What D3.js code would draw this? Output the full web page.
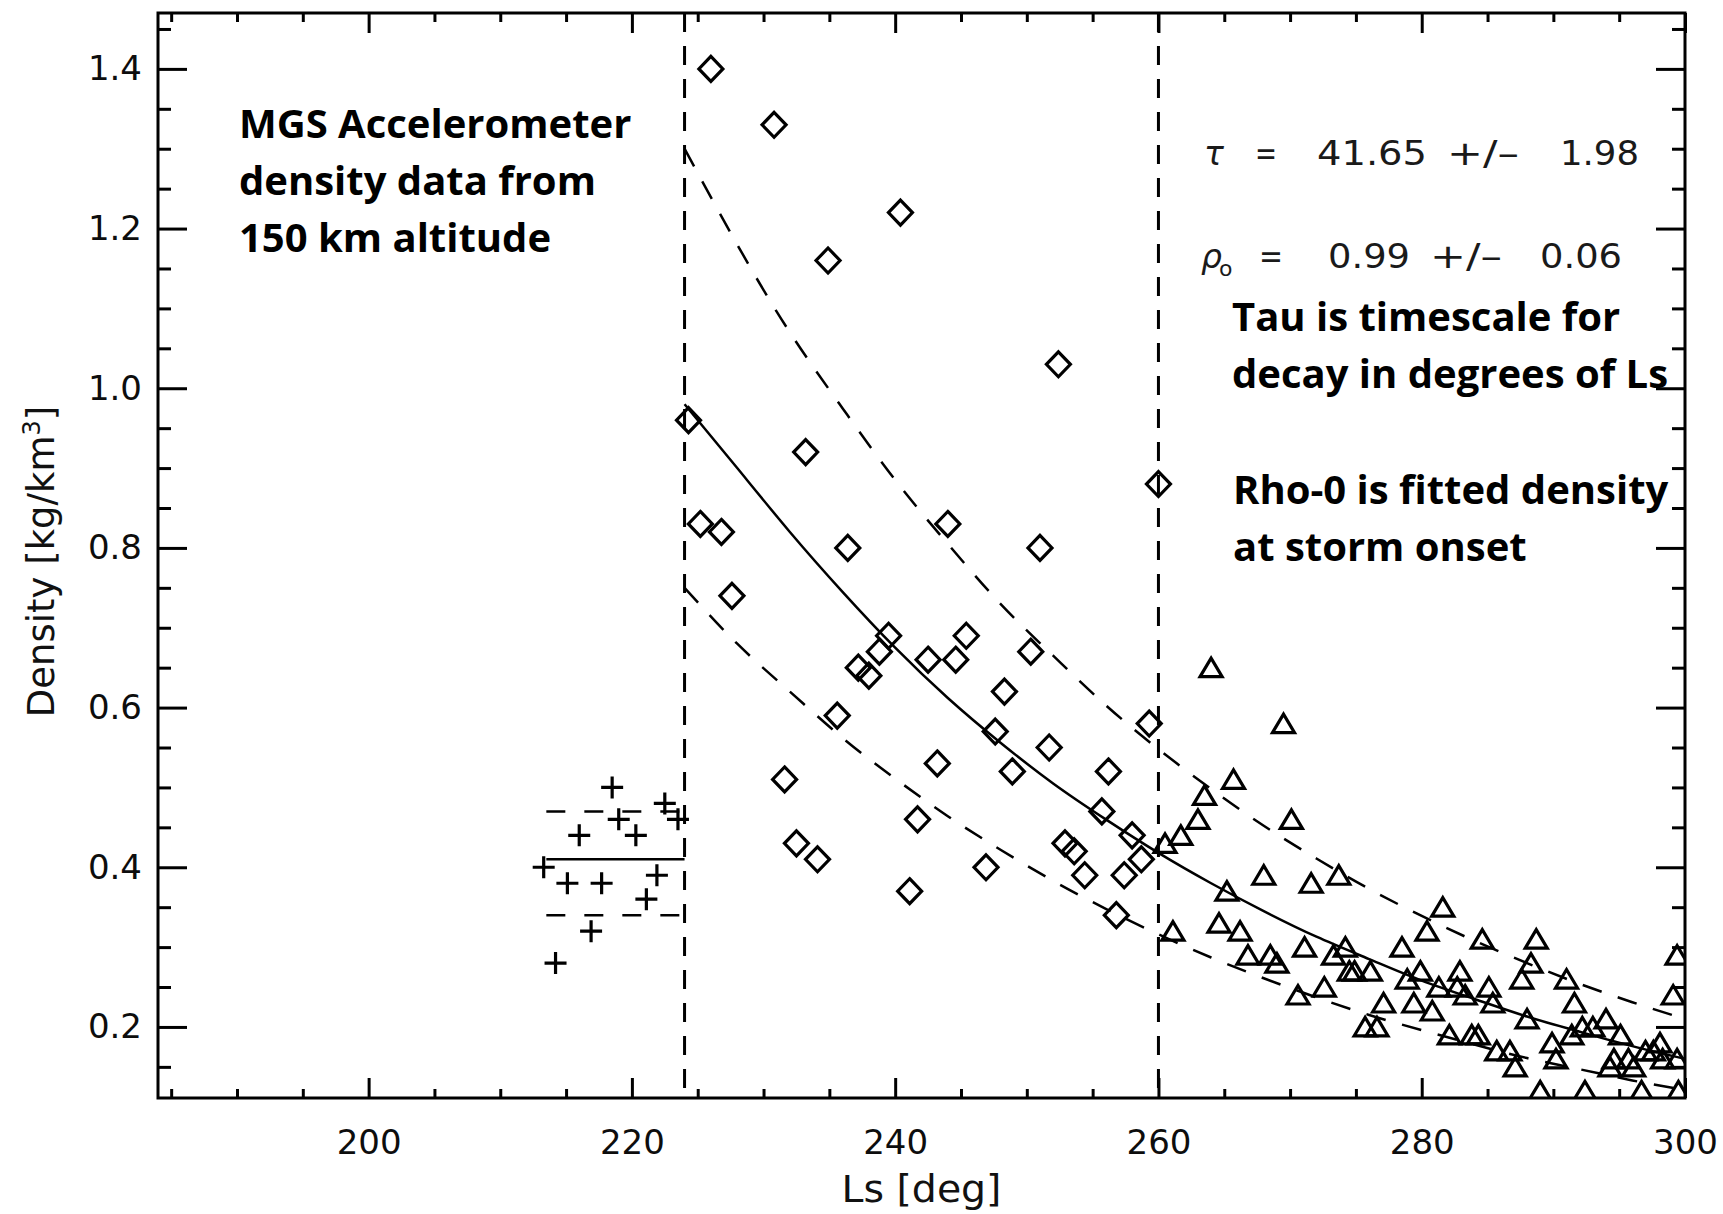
<!DOCTYPE html>
<html>
<head>
<meta charset="utf-8">
<script src="https://cdn.jsdelivr.net/npm/d3@7"></script>
<style>
  body { margin: 0; background: #fff; }
  svg { display: block; }
  .axis text { font-family: "DejaVu Sans", sans-serif; font-size: 34px; fill: #0d0d0d; }
  .axis line { stroke: #000; stroke-width: 3; }
  .axis .domain { display: none; }
  .title { font-family: "DejaVu Sans", sans-serif; font-size: 37px; fill: #111; }
  .fit { font-family: "DejaVu Sans", sans-serif; font-size: 33px; fill: #1a1a1a; }
  .note { font-family: "Open Sans", sans-serif; font-weight: bold; font-size: 40px; fill: #000; }
</style>
</head>
<body>
<script>
'use strict';

//pre-storm orbits (crosses)
var crossLs  = [213.3, 214.2, 215.1, 216.0, 216.9, 217.7, 218.5, 219.0, 220.3, 221.1, 221.9, 222.5, 223.5];
var crossRho = [0.40, 0.28, 0.38, 0.44, 0.32, 0.38, 0.50, 0.46, 0.44, 0.36, 0.39, 0.48, 0.46];

//storm orbits, Ls 224-260 (diamonds)
var diamondLs  = [224.3, 225.2, 226.0, 226.8, 227.6, 230.8, 231.6, 232.5, 233.2, 234.1, 234.9,
                  235.6, 236.4, 237.2, 238.0, 238.8, 239.5, 240.4, 241.1, 241.7, 242.5, 243.2,
                  244.0, 244.6, 245.4, 246.9, 247.6, 248.3, 248.9, 250.3, 251.0, 251.7, 252.4,
                  252.9, 253.6, 254.4, 255.7, 256.2, 256.8, 257.4, 258.0, 258.7, 259.3, 260.0];
var diamondRho = [0.96, 0.83, 1.40, 0.82, 0.74, 1.33, 0.51, 0.43, 0.92, 0.41, 1.16,
                  0.59, 0.80, 0.65, 0.64, 0.67, 0.69, 1.22, 0.37, 0.46, 0.66, 0.53,
                  0.83, 0.66, 0.69, 0.40, 0.57, 0.62, 0.52, 0.67, 0.80, 0.55, 1.03,
                  0.43, 0.42, 0.39, 0.47, 0.52, 0.34, 0.39, 0.44, 0.41, 0.58, 0.88];

//decay orbits, Ls 260-300 (triangles)
var triangleLs  = [260.5, 261.1, 261.7, 263.0, 263.5, 264.0, 264.6, 265.2, 265.7, 266.2, 266.8,
                   268.0, 268.5, 269.0, 269.5, 270.1, 270.6, 271.1, 271.6, 272.6, 273.3, 273.7,
                   274.2, 274.5, 274.9, 275.7, 276.1, 276.6, 277.1, 278.5, 278.9, 279.4, 279.9,
                   280.4, 280.8, 281.3, 281.6, 282.1, 282.7, 282.9, 283.3, 283.8, 284.3, 284.6,
                   285.1, 285.4, 285.7, 286.7, 287.1, 287.6, 288.0, 288.3, 288.7, 289.0, 289.9,
                   290.2, 291.0, 291.4, 291.6, 292.2, 292.4, 293.0, 294.0, 294.3, 294.6, 295.1,
                   295.7, 296.1, 296.7, 297.0, 297.6, 298.1, 298.3, 299.1, 299.4, 299.4, 299.5];
var triangleRho = [0.43, 0.32, 0.44, 0.46, 0.49, 0.65, 0.33, 0.37, 0.51, 0.32, 0.29,
                   0.39, 0.29, 0.28, 0.58, 0.46, 0.24, 0.30, 0.38, 0.25, 0.29, 0.39,
                   0.30, 0.27, 0.27, 0.20, 0.27, 0.20, 0.23, 0.30, 0.26, 0.23, 0.27,
                   0.32, 0.22, 0.25, 0.35, 0.19, 0.25, 0.27, 0.24, 0.19, 0.19, 0.31,
                   0.25, 0.23, 0.17, 0.17, 0.15, 0.26, 0.21, 0.28, 0.31, 0.12, 0.18,
                   0.16, 0.26, 0.19, 0.23, 0.20, 0.12, 0.20, 0.21, 0.15, 0.16, 0.19,
                   0.16, 0.15, 0.12, 0.17, 0.17, 0.18, 0.16, 0.24, 0.29, 0.16, 0.12];

//fitted decay and its envelope
var curveLs  = [224, 228, 232, 236, 240, 244, 248, 252, 256, 260, 264, 268, 272, 276, 280, 284, 288, 292, 296, 300];
var fitRho   = [0.98, 0.90, 0.82, 0.745, 0.675, 0.612, 0.556, 0.505, 0.46, 0.418, 0.38, 0.345, 0.313, 0.285, 0.258, 0.235, 0.213, 0.194, 0.176, 0.16];
var upperRho = [1.30, 1.18, 1.07, 0.975, 0.885, 0.805, 0.73, 0.665, 0.603, 0.548, 0.498, 0.452, 0.411, 0.373, 0.339, 0.308, 0.28, 0.254, 0.231, 0.21];
var lowerRho = [0.75, 0.68, 0.62, 0.562, 0.511, 0.464, 0.422, 0.383, 0.348, 0.316, 0.287, 0.261, 0.237, 0.215, 0.196, 0.178, 0.161, 0.147, 0.133, 0.121];

//pre-storm mean and spread
var preLs = [213.5, 224];
var preMean = 0.41, preHigh = 0.47, preLow = 0.34;

//storm onset / decay start
var stormLs = [224, 260];

var xMajor = [200, 220, 240, 260, 280, 300];
var xMinor = [185, 190, 195, 205, 210, 215, 225, 230, 235, 245, 250, 255, 265, 270, 275, 285, 290, 295];
var yMajor = [0.2, 0.4, 0.6, 0.8, 1.0, 1.2, 1.4];
var yMinor = [0.15, 0.25, 0.3, 0.35, 0.45, 0.5, 0.55, 0.65, 0.7, 0.75, 0.85, 0.9, 0.95, 1.05, 1.1, 1.15, 1.25, 1.3, 1.35, 1.45];

var tau = '41.65', tauErr = '1.98', rho0 = '0.99', rho0Err = '0.06';

//general setup
var W = 1723, H = 1214;
var pL = 158, pR = 1685, pT = 13, pB = 1098;

var svg = d3.select('body').append('svg').attr('width', W).attr('height', H);

var x = d3.scaleLinear().domain([184, 300]).range([pL, pR]);
var y = d3.scaleLinear().domain([0.111, 1.47]).range([pB, pT]);

svg.append('clipPath').attr('id', 'plot').append('rect')
  .attr('x', pL).attr('y', pT).attr('width', pR - pL).attr('height', pB - pT);

var plot = svg.append('g').attr('clip-path', 'url(#plot)');

//axes: majors with labels, minors without, all ticks inward
function axis(gen, scale, vals, len, fmt, tr, pad) {
  var a = gen(scale).tickValues(vals).tickSizeInner(-len).tickSizeOuter(0).tickPadding(pad || 0)
    .tickFormat(fmt ? d3.format(fmt) : '');
  svg.append('g').attr('class', 'axis').attr('transform', tr).call(a);
}
axis(d3.axisBottom, x, xMajor, 20, 'd', 'translate(0,' + pB + ')', 32);
axis(d3.axisBottom, x, xMinor, 9, null, 'translate(0,' + pB + ')');
axis(d3.axisTop, x, xMajor, 20, null, 'translate(0,' + pT + ')');
axis(d3.axisTop, x, xMinor, 9, null, 'translate(0,' + pT + ')');
axis(d3.axisLeft, y, yMajor, 29, '.1f', 'translate(' + pL + ',0)', 16);
axis(d3.axisLeft, y, yMinor, 13, null, 'translate(' + pL + ',0)');
axis(d3.axisRight, y, yMajor, 29, null, 'translate(' + pR + ',0)');
axis(d3.axisRight, y, yMinor, 13, null, 'translate(' + pR + ',0)');

svg.append('rect').attr('x', pL).attr('y', pT).attr('width', pR - pL).attr('height', pB - pT)
  .attr('fill', 'none').attr('stroke', '#000').attr('stroke-width', 3);

//axis titles
svg.append('text').attr('class', 'title').attr('x', (pL + pR) / 2).attr('y', 1202)
  .attr('text-anchor', 'middle').attr('textLength', 160).attr('lengthAdjust', 'spacingAndGlyphs')
  .text('Ls [deg]');
var yt = svg.append('text').attr('class', 'title').attr('text-anchor', 'middle')
  .attr('transform', 'translate(54,' + ((pT + pB) / 2 + 6) + ') rotate(-90)');
yt.append('tspan').text('Density  [kg/km');
yt.append('tspan').attr('font-size', 24).attr('dy', -14).text('3');
yt.append('tspan').attr('dy', 14).text(']');

//vertical dashed markers
stormLs.forEach(function (v) {
  plot.append('line').attr('x1', x(v)).attr('x2', x(v)).attr('y1', pT).attr('y2', pB)
    .attr('stroke', '#000').attr('stroke-width', 3).attr('stroke-dasharray', '19,14');
});

//pre-storm mean and spread
[[preMean, null], [preHigh, '19,19'], [preLow, '19,19']].forEach(function (p) {
  plot.append('line').attr('x1', x(preLs[0])).attr('x2', x(preLs[1]))
    .attr('y1', y(p[0])).attr('y2', y(p[0]))
    .attr('stroke', '#000').attr('stroke-width', 2.5).attr('stroke-dasharray', p[1]);
});

//fit curves
var line = d3.line().x(function (d) { return x(d[0]); }).y(function (d) { return y(d[1]); })
  .curve(d3.curveNatural);
[[fitRho, null], [upperRho, '20,17'], [lowerRho, '20,17']].forEach(function (c) {
  plot.append('path').datum(d3.zip(curveLs, c[0])).attr('d', line)
    .attr('fill', 'none').attr('stroke', '#000').attr('stroke-width', 2.5).attr('stroke-dasharray', c[1]);
});

//markers
var shapes = {
  cross: 'M-11,0H11M0,-11V11',
  diamond: 'M0,-12.5L12,0L0,12.5L-12,0Z',
  triangle: 'M-11,9L0,-9.5L11,9Z'
};
function markers(xs, ys, shape) {
  plot.append('g').selectAll('path').data(d3.zip(xs, ys)).enter().append('path')
    .attr('transform', function (d) { return 'translate(' + x(d[0]) + ',' + y(d[1]) + ')'; })
    .attr('d', shapes[shape])
    .attr('fill', 'none').attr('stroke', '#000').attr('stroke-width', 3.2);
}
markers(crossLs, crossRho, 'cross');
markers(diamondLs, diamondRho, 'diamond');
markers(triangleLs, triangleRho, 'triangle');

//fit results: pieces stretched to the widths seen in the figure
function piece(s, x0, y0, w, italic) {
  var t = svg.append('text').attr('class', 'fit').attr('x', x0).attr('y', y0).text(s);
  if (w) t.attr('textLength', w).attr('lengthAdjust', 'spacingAndGlyphs');
  if (italic) t.attr('font-style', 'italic');
  return t;
}
piece('\u03c4', 1204, 165, 0, true);
piece('=', 1255, 165, 22);
piece(tau, 1317, 165, 110);
piece('+/\u2013', 1447, 165, 72);
piece(tauErr, 1560, 165, 79);

var rho = piece('\u03c1', 1201, 268, 0, true);
rho.append('tspan').attr('font-size', 22).attr('font-style', 'normal').attr('dx', -3).attr('dy', 8).text('o');
piece('=', 1259, 268, 24);
piece(rho0, 1328, 268, 82);
piece('+/\u2013', 1430, 268, 72);
piece(rho0Err, 1540, 268, 82);

//annotations
function note(lines, x0, y0) {
  lines.forEach(function (s, i) {
    svg.append('text').attr('class', 'note').attr('x', x0).attr('y', y0 + i * 57).text(s);
  });
}
note(['MGS Accelerometer', 'density data from', '150 km altitude'], 239, 138);
note(['Tau is timescale for', 'decay in degrees of Ls'], 1232, 331);
note(['Rho-0 is fitted density', 'at storm onset'], 1233, 504);
</script>
</body>
</html>
